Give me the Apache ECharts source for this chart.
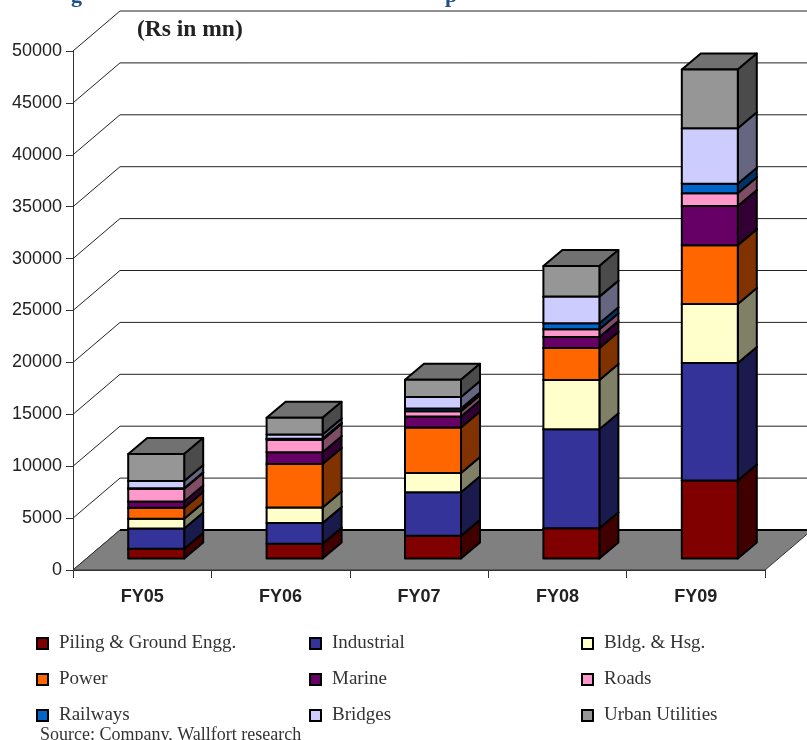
<!DOCTYPE html>
<html>
<head>
<meta charset="utf-8">
<style>
  html, body { margin: 0; padding: 0; background: #fff; overflow: hidden; }
  #chart { width: 807px; height: 740px; }
</style>
<script src="https://cdn.jsdelivr.net/npm/echarts@6/dist/echarts.min.js"></script>
</head>
<body>
<div id="chart"></div>
<script>
// Order book by segment, Rs in mn
const years = ['FY05', 'FY06', 'FY07', 'FY08', 'FY09'];
const valueTicks = [0, 5000, 10000, 15000, 20000, 25000, 30000, 35000, 40000, 45000, 50000];

const pilingNames = 'Piling & Ground Engg.';
const industrialName = 'Industrial';
const buildingName = 'Bldg. & Hsg.';
const powerName = 'Power';
const marineName = 'Marine';
const roadsName = 'Roads';
const railwaysName = 'Railways';
const bridgesName = 'Bridges';
const urbanName = 'Urban Utilities';

const piling     = [930, 1410, 2180, 2920, 7510];
const industrial = [1960, 2020, 4200, 9530, 11320];
const building   = [930, 1480, 1860, 4750, 5680];
const power      = [1060, 4200, 4370, 3080, 5680];
const marine     = [610, 1120, 1060, 1060, 3780];
const roads      = [1220, 1220, 510, 740, 1220];
const railways   = [60, 80, 260, 580, 920];
const bridges    = [700, 420, 1120, 2570, 5330];
const urban      = [2600, 1600, 1670, 2950, 5680];

const segments = [
  [pilingNames, piling, '#800000'],
  [industrialName, industrial, '#333399'],
  [buildingName, building, '#FFFFCC'],
  [powerName, power, '#FF6600'],
  [marineName, marine, '#660066'],
  [roadsName, roads, '#FF99CC'],
  [railwaysName, railways, '#0066CC'],
  [bridgesName, bridges, '#CCCCFF'],
  [urbanName, urban, '#969696']
];

// Oblique projection of the 3D box
const WALL_DX = 47, WALL_DY = -40;
const BAR_DX = 19, BAR_DY = -16;
const BAR_SHIFT_X = 14, BAR_SHIFT_Y = -11.5;
const BAR_WIDTH = 56;

const serifFont = '"Liberation Serif", serif';
const sansFont = '"Liberation Sans", sans-serif';

// Faces turned away from the light are a darker tone of the front colour
function shade(hex, factor) {
  const n = parseInt(hex.slice(1), 16);
  const ch = s => Math.round(((n >> s) & 255) * factor);
  return 'rgb(' + ch(16) + ',' + ch(8) + ',' + ch(0) + ')';
}

function renderWallLine(params, api) {
  const y = api.coord([0, api.value(0)])[1];
  const x0 = params.coordSys.x;
  const x1 = x0 + params.coordSys.width;
  return {
    type: 'polyline',
    shape: { points: [[x0, y], [x0 + WALL_DX, y + WALL_DY], [x1 + WALL_DX, y + WALL_DY]] },
    style: { fill: null, stroke: '#222', lineWidth: 1 }
  };
}

function renderFloor(params) {
  const g = params.coordSys;
  const yb = g.y + g.height;
  const xl = g.x, xr = g.x + g.width;
  return {
    type: 'group',
    children: [
      {
        type: 'polygon',
        shape: { points: [[xl, yb], [xr, yb], [xr + WALL_DX, yb + WALL_DY], [xl + WALL_DX, yb + WALL_DY]] },
        style: { fill: '#808080', stroke: '#333', lineWidth: 1 }
      },
      {
        type: 'line',
        shape: { x1: xl + WALL_DX, y1: yb + WALL_DY, x2: xr + WALL_DX, y2: yb + WALL_DY },
        style: { stroke: '#000', lineWidth: 2 }
      }
    ]
  };
}

function makeSegmentRenderer(color) {
  const topFill = shade(color, 0.75);
  const sideFill = shade(color, 0.5);
  return function (params, api) {
    const c = api.value(0);
    const fromPt = api.coord([c, api.value(1)]);
    const toPt = api.coord([c, api.value(2)]);
    const left = fromPt[0] + BAR_SHIFT_X - BAR_WIDTH / 2;
    const right = left + BAR_WIDTH;
    const bottom = fromPt[1] + BAR_SHIFT_Y;
    const top = toPt[1] + BAR_SHIFT_Y;
    const edge = { stroke: '#000', lineWidth: 2, lineJoin: 'round' };
    const face = (points, fill) => ({
      type: 'polygon',
      shape: { points },
      style: Object.assign({ fill }, edge)
    });
    return {
      type: 'group',
      children: [
        face([[left, top], [right, top], [right + BAR_DX, top + BAR_DY], [left + BAR_DX, top + BAR_DY]], topFill),
        face([[right, bottom], [right + BAR_DX, bottom + BAR_DY], [right + BAR_DX, top + BAR_DY], [right, top]], sideFill),
        face([[left, bottom], [right, bottom], [right, top], [left, top]], color)
      ]
    };
  };
}

// Running totals give each segment its lower and upper bound
const running = years.map(() => 0);
const segmentSeries = segments.map(([name, values, color]) => ({
  type: 'custom',
  name,
  coordinateSystem: 'cartesian2d',
  renderItem: makeSegmentRenderer(color),
  itemStyle: { color, borderColor: '#000', borderWidth: 2 },
  encode: { x: 0, y: [1, 2] },
  data: values.map((v, i) => {
    const base = running[i];
    running[i] += v;
    return [i, base, running[i]];
  })
}));

const legendBase = {
  orient: 'vertical',
  top: 623,
  height: 130,
  icon: 'rect',
  itemWidth: 11,
  itemHeight: 11,
  itemGap: 5,
  selectedMode: false,
  itemStyle: { borderColor: '#000', borderWidth: 2 },
  textStyle: { fontFamily: serifFont, fontSize: 19, color: '#333', padding: [8, 0, 0, 6], height: 23, lineHeight: 23 }
};

const chart = echarts.init(document.getElementById('chart'), null, { renderer: 'canvas' });
chart.setOption({
  animation: false,
  backgroundColor: '#fff',
  title: {
    text: '(Rs in mn)',
    left: 132,
    top: 13,
    textStyle: { fontFamily: serifFont, fontSize: 23.5, fontWeight: 'bold', color: '#222' }
  },
  legend: [
    Object.assign({}, legendBase, { left: 31, data: [pilingNames, powerName, railwaysName] }),
    Object.assign({}, legendBase, { left: 304, data: [industrialName, marineName, bridgesName] }),
    Object.assign({}, legendBase, { left: 576, data: [buildingName, roadsName, urbanName] })
  ],
  grid: { left: 73, top: 51, width: 692, height: 519 },
  xAxis: {
    type: 'category',
    data: years,
    axisLine: { lineStyle: { color: '#333', width: 1 } },
    axisTick: { show: true, alignWithLabel: false, length: 8, lineStyle: { color: '#333' } },
    axisLabel: { fontFamily: sansFont, fontSize: 18, fontWeight: 'bold', color: '#222', margin: 18 }
  },
  yAxis: {
    type: 'value',
    min: 0,
    max: 50000,
    interval: 5000,
    axisLine: { show: true, lineStyle: { color: '#333', width: 1 } },
    axisTick: { show: true, length: 7, lineStyle: { color: '#333' } },
    splitLine: { show: false },
    axisLabel: { fontFamily: sansFont, fontSize: 18, color: '#222', margin: 11, formatter: v => String(v) }
  },
  graphic: [
    { type: 'text', left: 71, top: -15, style: { text: 'g', font: 'bold 22px ' + serifFont, fill: '#1F4E8C' } },
    { type: 'text', left: 445, top: -15, style: { text: 'p', font: 'bold 22px ' + serifFont, fill: '#1F4E8C' } },
    { type: 'text', left: 40, top: 726, style: { text: 'Source: Company, Wallfort research', font: '18px ' + serifFont, fill: '#333' } }
  ],
  series: [
    {
      type: 'custom',
      name: 'wall',
      coordinateSystem: 'cartesian2d',
      renderItem: renderWallLine,
      encode: { y: 0 },
      data: valueTicks.map(t => [t])
    },
    {
      type: 'custom',
      name: 'floor',
      coordinateSystem: 'cartesian2d',
      renderItem: renderFloor,
      data: [[0, 0]]
    }
  ].concat(segmentSeries)
});
</script>
</body>
</html>
